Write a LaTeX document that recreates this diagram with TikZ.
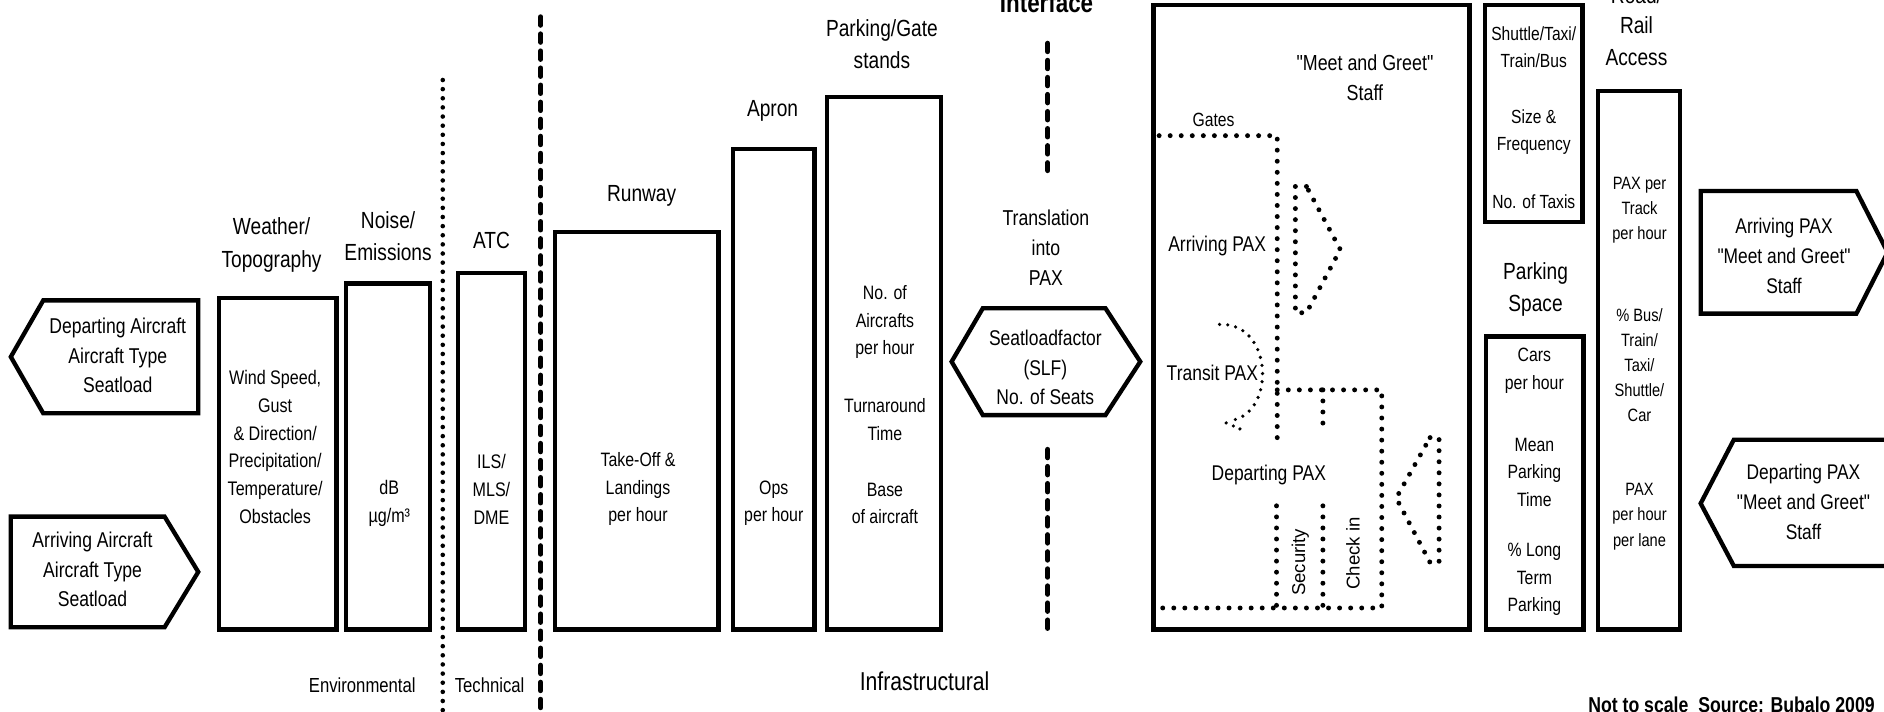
\documentclass[tikz,border=0pt]{standalone}
\usepackage{fontspec}
\setmainfont{Liberation Sans}[FakeStretch=0.82, Ligatures=TeXOff]
\newfontfamily\plainsans{Liberation Sans}[Ligatures=TeXOff]
\newcommand\setfs[2]{\fontsize{#1}{#2}\selectfont}
\begin{document}
\begin{tikzpicture}[x=1bp,y=-1bp,
  box/.style={line width=3.6bp, line join=miter},
  lbl/.style={inner sep=0pt, align=center},
  dotline/.style={line width=4.1bp, line cap=round, dash pattern=on 0bp off 9.2bp},
  fdot/.style={line width=3bp, line cap=round, dash pattern=on 0bp off 6.8bp},
  envdot/.style={line width=3.8bp, line cap=round, dash pattern=on 0bp off 7.6bp},
  bigdash/.style={line width=4.2bp, line cap=round, dash pattern=on 7bp off 7.2bp},
  ttl/.style={lbl, font=\setfs{19.5}{27}},
  arr/.style={lbl, font=\setfs{17.9}{24.6}},
  wtx/.style={lbl, font=\setfs{16.4}{23.3}},
  itx/.style={lbl, font=\setfs{16.2}{23}},
  btx/.style={lbl, font=\setfs{17.8}{24.6}},
  stx/.style={lbl, font=\setfs{15.9}{22.7}},
  rtx/.style={lbl, font=\setfs{14.9}{21}},
  cat/.style={lbl, font=\setfs{17}{20}}
]
\useasboundingbox (0,0) rectangle (1568,592);
\fill[white] (0,0) rectangle (1568,592);

% ---------- left arrows ----------
\draw[box] (9,297) -- (36,250) -- (165,250) -- (165,344) -- (36,344) -- cycle;
\node[arr] (depac) at (98,296) {Departing Aircraft\\Aircraft Type\\Seatload};
\draw[box] (9,430) -- (137,430) -- (165,476) -- (137,522) -- (9,522) -- cycle;
\node[arr] (arrac) at (77,474) {Arriving Aircraft\\Aircraft Type\\Seatload};

% ---------- environmental ----------
\draw[box] (182,248) rectangle (280,524);
\node[ttl] (weatherT) at (226,204) {Weather/\\Topography};
\node[wtx] (weather) at (229,372) {Wind Speed,\\Gust\\\& Direction/\\Precipitation/\\Temperature/\\Obstacles};
\draw[box] (288,236) rectangle (358,524);
\node[ttl] (noiseT) at (323,196.5) {Noise/\\Emissions};
\node[wtx] (noise) at (324,419) {dB\\µg/m³};
\coordinate (envTop) at (368.5,66.6);
\coordinate (envBot) at (368.5,596);
\draw[envdot] (envTop) -- (envBot);

% ---------- technical ----------
\draw[box] (381,227) rectangle (437,524);
\node[ttl] (atcT) at (409,200) {ATC};
\node[wtx] (atc) at (409,407) {ILS/\\MLS/\\DME};
\node[cat] (env) at (301.5,570) {Environmental};
\node[cat] (tech) at (407.5,570) {Technical};
\coordinate (dashTop) at (450,14);
\coordinate (dashBot) at (450,598);
\draw[bigdash] (dashTop) -- (dashBot);

% ---------- infrastructural ----------
\draw[box] (462,193) rectangle (598,524);
\node[ttl] (runT) at (534,163) {Runway};
\node[itx] (run) at (531,407) {Take-Off \&\\Landings\\per hour};
\draw[box] (610,124) rectangle (678,524);
\node[ttl] (apronT) at (643,92) {Apron};
\node[itx] (apron) at (644,419) {Ops\\per hour};
\draw[box] (688,81) rectangle (783,524);
\node[ttl] (parkT) at (734,37) {Parking/Gate\\stands};
\node[itx] (park1) at (736.5,268) {No. of\\Aircrafts\\per hour};
\node[itx] (park2) at (736.5,349) {Turnaround\\Time};
\node[itx] (park3) at (736.5,419) {Base\\of aircraft};
\node[lbl, font=\setfs{21.6}{24}] (infra) at (769.5,567) {Infrastructural};

% ---------- interface ----------
\node[lbl, anchor=base, font=\bfseries\setfs{22.8}{26}] (iface) at (871,10.5) {Interface};
\coordinate (if1) at (872,36);
\coordinate (if2) at (872,142);
\coordinate (if3) at (872,374);
\coordinate (if4) at (872,527);
\draw[bigdash] (if1) -- (if2);
\draw[bigdash] (if3) -- (if4);
\node[lbl, font=\setfs{18}{25}] (transl) at (870.5,206) {Translation\\into\\PAX};
\draw[box] (792,301) -- (818,256.5) -- (920,256.5) -- (949,301) -- (920,345.5) -- (818,345.5) -- cycle;
\node[lbl, font=\setfs{17.8}{24.5}] (slf) at (870,306) {Seatloadfactor\\(SLF)\\No. of Seats};

% ---------- terminal ----------
\draw[box] (960,4) rectangle (1223,524);
\node[lbl, font=\setfs{18.2}{24.6}] (mg) at (1136,64.7) {"Meet and Greet"\\Staff};
\node[lbl, font=\setfs{16}{18}] (gates) at (1010,99.6) {Gates};
\draw[dotline] (964.7,112.9) -- (1063,112.9) -- (1063,365.4);
\node[btx] (arrpax) at (1013,204.7) {Arriving PAX};
\draw[dotline] (1087.3,155.2) -- (1078.1,155.2) -- (1078.1,260.3) -- (1087.3,260.3) -- (1115.5,207.7) -- cycle;
\node[btx] (trpax) at (1009,310) {Transit PAX};
\draw[fdot] (1015,270) .. controls (1060,268) and (1062,345) .. (1024,350);
\fill (1020.5,352) circle (1.5bp) (1026.5,354.5) circle (1.5bp) (1032,357) circle (1.5bp);
\draw[dotline] (1063,324.5) -- (1150,324.5) -- (1150,506) -- (964.7,506);
\draw[dotline] (1101,324.5) -- (1101,356.7);
\draw[dotline] (1062.4,421) -- (1062.4,506);
\draw[dotline] (1101,421) -- (1101,506);
\node[btx] (deppax) at (1056,395.6) {Departing PAX};
\node[lbl, rotate=90, font=\plainsans\setfs{15.5}{18}] (sec) at (1082.3,468) {Security};
\node[lbl, rotate=90, font=\plainsans\setfs{15.5}{18}] (chk) at (1126,460.7) {Check in};
\draw[dotline] (1190.2,364.2) -- (1197.7,364.2) -- (1197.7,468.2) -- (1190.2,468.2) -- (1162,414.5) -- cycle;

% ---------- landside ----------
\draw[box] (1236,4) rectangle (1317,185);
\node[stx] (sh1) at (1276.5,39) {Shuttle/Taxi/\\Train/Bus};
\node[stx] (sh2) at (1276.5,110) {Size \&\\Frequency};
\node[stx] (sh3) at (1276.5,167.7) {No. of Taxis};
\node[ttl] (pspT) at (1278,241) {Parking\\Space};
\draw[box] (1237,280) rectangle (1318,524);
\node[lbl, font=\setfs{16.1}{23}] (ps1) at (1277,308.5) {Cars\\per hour};
\node[lbl, font=\setfs{16.1}{23}] (ps2) at (1277,393) {Mean\\Parking\\Time};
\node[lbl, font=\setfs{16.1}{23}] (ps3) at (1277,482.5) {\% Long\\Term\\Parking};
\node[lbl, anchor=base, font=\setfs{19.5}{27}] (road) at (1362,2.5) {Road/};
\node[ttl] (railT) at (1362,34) {Rail\\Access};
\draw[box] (1330,76) rectangle (1398,524);
\node[rtx] (r1) at (1364.5,175) {PAX per\\Track\\per hour};
\node[rtx] (r2) at (1364.5,303.8) {\% Bus/\\Train/\\Taxi/\\Shuttle/\\Car};
\node[rtx] (r3) at (1364.5,430) {PAX\\per hour\\per lane};

% ---------- right arrows ----------
\draw[box] (1415.4,159) -- (1545,159) -- (1571,210) -- (1545,261) -- (1415.4,261) -- cycle;
\node[lbl, font=\setfs{17.7}{25}] (arrpaxR) at (1484.8,213) {Arriving PAX\\"Meet and Greet"\\Staff};
\draw[box] (1415.4,419) -- (1443,366) -- (1585,366) -- (1585,471) -- (1443,471) -- cycle;
\node[lbl, font=\setfs{17.7}{25}] (deppaxR) at (1501,417.7) {Departing PAX\\"Meet and Greet"\\Staff};

\node[lbl, anchor=base west, font=\bfseries\setfs{18}{20}] (src) at (1321.7,592.6) {Not to scale\ \ Source: Bubalo 2009};
\end{tikzpicture}
\end{document}
